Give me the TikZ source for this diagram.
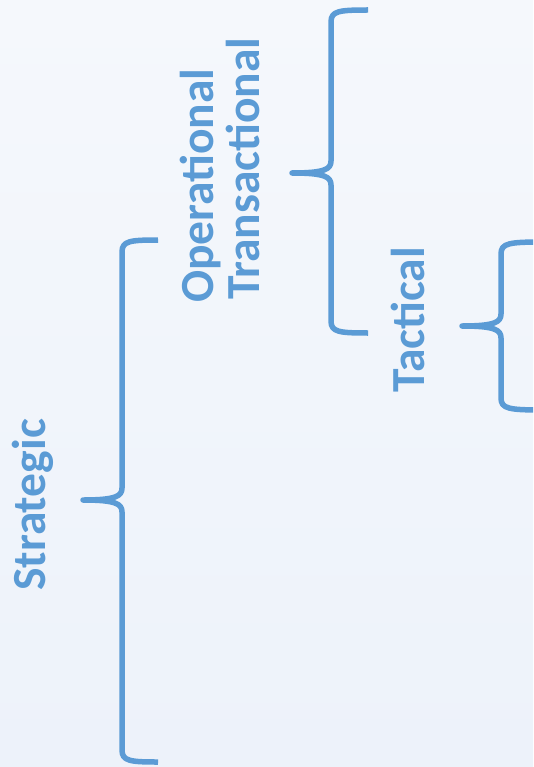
\documentclass[tikz,border=0pt]{standalone}
\usepackage{fontspec}
\setmainfont{Carlito}
\definecolor{accent}{HTML}{5B9BD5}
\definecolor{bgtop}{HTML}{F5F8FC}
\definecolor{bgbot}{HTML}{EDF2FA}
\begin{document}
\begin{tikzpicture}[x=1pt,y=-1pt,
  bracestyle/.style={draw=accent,line width=5.5pt,line join=round,line cap=butt},
  lbl/.style={text=accent,font=\fontsize{47.5}{48}\selectfont\bfseries,rotate=90,anchor=base west,inner sep=0pt}]
\useasboundingbox (0,0) rectangle (533,767);
\shade[top color=bgtop,bottom color=bgbot] (0,0) rectangle (533,767);
\clip (0,0) rectangle (533,767);
\tikzset{
  lbrace/.pic={
    \path[bracestyle] (\xr,\T) .. controls (\X+8,\T) and (\X,\T+1) .. (\X,\T+12)
      -- (\X,\M-12) .. controls (\X,\M-4) and (\X-6,\M) .. (\xt,\M)
      .. controls (\X-6,\M) and (\X,\M+4) .. (\X,\M+12)
      -- (\X,\B-12) .. controls (\X,\B-1) and (\X+8,\B) .. (\xr,\B);
  }
}
% Brace 1 (Operational / Transactional)
\def\X{331}\def\T{10}\def\B{333}\def\M{173}\def\xt{292}\def\xr{368}
\pic (b1) {lbrace};
% Brace 2 (Strategic)
\def\X{122}\def\T{240}\def\B{762}\def\M{500}\def\xt{83}\def\xr{158}
\pic (b2) {lbrace};
% Brace 3 (Tactical)
\def\X{501}\def\T{242}\def\B{410}\def\M{326}\def\xt{462}\def\xr{545}
\pic (b3) {lbrace};
\node[lbl] (op) at (213,303) {Operational};
\node[lbl] (tr) at (259,300) {Transactional};
\node[lbl] (st) at (45,591) {Strategic};
\node[lbl] (ta) at (424,393) {Tactical};
\end{tikzpicture}
\end{document}
